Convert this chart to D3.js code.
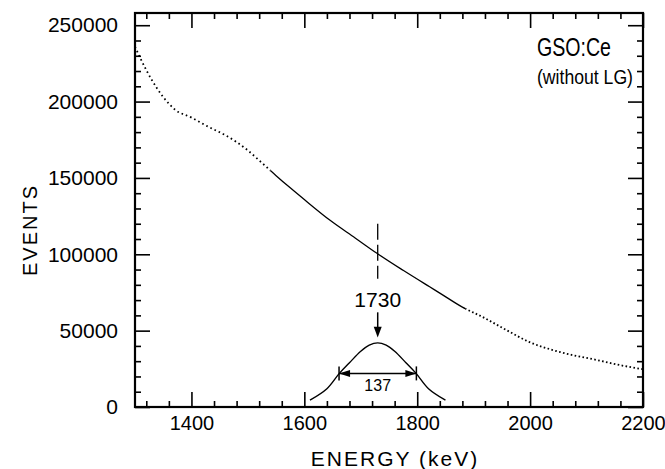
<!DOCTYPE html>
<html>
<head>
<meta charset="utf-8">
<script src="https://cdn.jsdelivr.net/npm/d3@7"></script>
<style>
  html, body { margin: 0; padding: 0; background: #fff; }
  svg { display: block; }
  text { font-family: "Liberation Sans", Arial, sans-serif; fill: #000; }
</style>
</head>
<body>
<svg id="chart" width="665" height="469"></svg>
<script>
// ---- data ----
const spectrumEnergy = [1300, 1310, 1330, 1350, 1370, 1400, 1430, 1460, 1480, 1500, 1520, 1550, 1575, 1601, 1645, 1690, 1728, 1775, 1822, 1840, 1880, 1916, 1958, 1999, 2040, 2075, 2118, 2158, 2200];
const spectrumCounts = [236000, 228000, 214000, 203000, 195000, 189500, 183500, 178000, 173500, 168000, 161500, 151500, 143500, 135500, 122400, 110700, 100800, 89500, 78700, 74600, 65400, 58900, 50400, 42500, 37300, 34000, 30800, 27500, 24700];

const fitEnergy = [1610, 1640, 1662, 1680, 1700, 1715, 1730, 1745, 1760, 1780, 1798, 1820, 1850];
const fitCounts = [4500, 12000, 22000, 29000, 36500, 40500, 42000, 40500, 36500, 29000, 22000, 12000, 4500];

const xTickValues = [1400, 1600, 1800, 2000, 2200];
const yTickValues = [0, 50000, 100000, 150000, 200000, 250000];
const xAxisTitle = "ENERGY  (keV)";
const yAxisTitle = "EVENTS";
const titleLines = ["GSO:Ce", "(without LG)"];
const peakEnergy = 1730;
const fwhmValue = 137;
const halfMaxCounts = 22000;

// ---- layout ----
const svg = d3.select("#chart");
const L = 135, R = 643, T = 13, B = 407;
const x = d3.scaleLinear().domain([1300, 2200]).range([L, R]);
const y = d3.scaleLinear().domain([0, 258000]).range([B, T]);

const xMinor = d3.range(1320, 2200, 40).filter(v => !xTickValues.includes(v));
const yMinor = d3.range(10000, 258000, 10000).filter(v => !yTickValues.includes(v));

function styleAxis(g) {
  g.select(".domain").remove();
  g.selectAll("line").attr("stroke", "#000").attr("stroke-width", 1.6);
}

// major + minor ticks on all four sides, pointing inward
const axes = [
  {a: d3.axisBottom, t: `translate(0,${B})`, s: x, vals: xTickValues, minor: xMinor, labels: true, pad: 9, fs: 20},
  {a: d3.axisTop, t: `translate(0,${T})`, s: x, vals: xTickValues, minor: xMinor, labels: false, pad: 9, fs: 20},
  {a: d3.axisLeft, t: `translate(${L},0)`, s: y, vals: yTickValues, minor: yMinor, labels: true, pad: 17, fs: 21},
  {a: d3.axisRight, t: `translate(${R},0)`, s: y, vals: yTickValues, minor: yMinor, labels: false, pad: 9, fs: 20}
];
axes.forEach(ax => {
  svg.append("g").attr("transform", ax.t)
    .call(ax.a(ax.s).tickValues(ax.minor).tickSize(-6).tickFormat(""))
    .call(styleAxis);
  const g = svg.append("g").attr("transform", ax.t)
    .call(ax.a(ax.s).tickValues(ax.vals).tickSize(-15).tickPadding(ax.pad)
      .tickFormat(ax.labels ? d3.format("d") : ""))
    .call(styleAxis);
  g.selectAll("text").attr("font-size", ax.fs).attr("font-family", "Liberation Sans, Arial, sans-serif").attr("fill", "#000");
});

// frame
svg.append("rect").attr("x", L).attr("y", T).attr("width", R - L).attr("height", B - T)
  .attr("fill", "none").attr("stroke", "#000").attr("stroke-width", 2.2);

// axis titles
svg.append("text").attr("x", 395).attr("y", 466).attr("text-anchor", "middle")
  .attr("font-size", 21).attr("letter-spacing", 2).text(xAxisTitle);
svg.append("text").attr("transform", "translate(37,230) rotate(-90)").attr("text-anchor", "middle")
  .attr("font-size", 20).attr("letter-spacing", 2).text(yAxisTitle);

// title
svg.append("text").attr("x", 537).attr("y", 56).attr("font-size", 25)
  .attr("textLength", 74).attr("lengthAdjust", "spacingAndGlyphs").text(titleLines[0]);
svg.append("text").attr("x", 537).attr("y", 84).attr("font-size", 20)
  .attr("textLength", 96).attr("lengthAdjust", "spacingAndGlyphs").text(titleLines[1]);

// ---- spectrum ----
const pts = spectrumEnergy.map((e, i) => [e, spectrumCounts[i]]);
const line = d3.line().x(d => x(d[0])).y(d => y(d[1])).curve(d3.curveMonotoneX);
const defs = svg.append("defs");
const segs = [
  {id: "c1", from: 1300, to: 1540, dash: "1.6,3"},
  {id: "c2", from: 1540, to: 1885, dash: null},
  {id: "c3", from: 1885, to: 2200, dash: "1.6,2.4"}
];
segs.forEach(s => {
  defs.append("clipPath").attr("id", s.id).append("rect")
    .attr("x", x(s.from)).attr("y", 0).attr("width", x(s.to) - x(s.from)).attr("height", 469);
  svg.append("path").datum(pts).attr("d", line).attr("fill", "none")
    .attr("stroke", "#000").attr("stroke-width", s.dash ? 1.8 : 1.3)
    .attr("stroke-dasharray", s.dash).attr("clip-path", `url(#${s.id})`);
});

// ---- fitted peak ----
const fitPts = fitEnergy.map((e, i) => [e, fitCounts[i]]);
svg.append("path").datum(fitPts).attr("d", d3.line().x(d => x(d[0])).y(d => y(d[1])).curve(d3.curveCatmullRom))
  .attr("fill", "none").attr("stroke", "#000").attr("stroke-width", 1.4);

// dashed marker at peak energy
svg.append("line").attr("x1", x(peakEnergy)).attr("x2", x(peakEnergy))
  .attr("y1", y(120000)).attr("y2", y(84000))
  .attr("stroke", "#000").attr("stroke-width", 1.3).attr("stroke-dasharray", "16,5");
svg.append("text").attr("x", x(peakEnergy)).attr("y", y(65500)).attr("text-anchor", "middle")
  .attr("font-size", 21).text(String(peakEnergy));
// downward arrow
const ax0 = x(peakEnergy);
svg.append("line").attr("x1", ax0).attr("x2", ax0).attr("y1", y(62000)).attr("y2", y(50000))
  .attr("stroke", "#000").attr("stroke-width", 1.5);
svg.append("path").attr("d", `M${ax0 - 4},${y(52500)} L${ax0 + 4},${y(52500)} L${ax0},${y(45500)} Z`).attr("fill", "#000");

// FWHM bar
const fl = x(peakEnergy - fwhmValue / 2), fr = x(peakEnergy + fwhmValue / 2), fy = y(halfMaxCounts);
svg.append("line").attr("x1", fl).attr("x2", fr).attr("y1", fy).attr("y2", fy).attr("stroke", "#000").attr("stroke-width", 1.5);
[fl, fr].forEach(xx => {
  svg.append("line").attr("x1", xx).attr("x2", xx).attr("y1", fy - 7).attr("y2", fy + 7).attr("stroke", "#000").attr("stroke-width", 1.5);
});
svg.append("path").attr("d", `M${fl},${fy} L${fl + 11},${fy - 3.5} L${fl + 11},${fy + 3.5} Z`).attr("fill", "#000");
svg.append("path").attr("d", `M${fr},${fy} L${fr - 11},${fy - 3.5} L${fr - 11},${fy + 3.5} Z`).attr("fill", "#000");
svg.append("text").attr("x", x(peakEnergy)).attr("y", fy + 18).attr("text-anchor", "middle")
  .attr("font-size", 16).text(String(fwhmValue));
</script>
</body>
</html>
